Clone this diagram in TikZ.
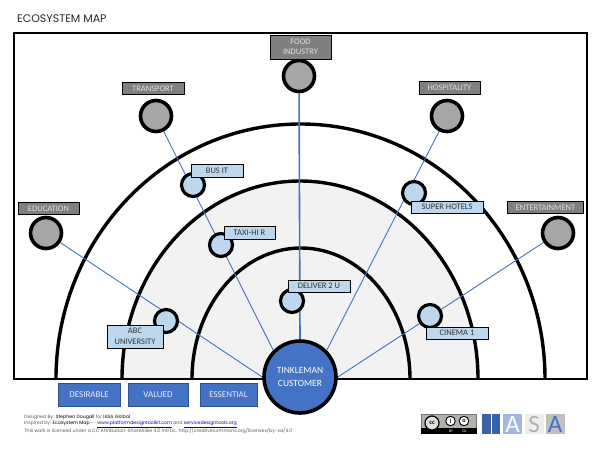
\documentclass[tikz,border=0pt]{standalone}
\usepackage{fontspec}
\setmainfont{Carlito}
\newfontfamily\gothic{Poppins}
\usetikzlibrary{backgrounds}
\definecolor{linkblue}{HTML}{4472C4}
\definecolor{paleblue}{HTML}{BDD7EE}
\definecolor{midgrey}{HTML}{A6A6A6}
\definecolor{boxgrey}{HTML}{7F7F7F}
\definecolor{ringfill}{HTML}{F2F2F2}
\definecolor{badgegrey}{HTML}{AEB3AC}
\tikzset{
  outercirc/.style={circle,draw=black,line width=3.6pt,fill=midgrey,minimum size=31pt,inner sep=0pt},
  innercirc/.style={circle,draw=black,line width=3.2pt,fill=paleblue,minimum size=23pt,inner sep=0pt},
  greylabel/.style={draw=black,line width=0.8pt,fill=boxgrey,text=white!88!black,font=\fontsize{8.5}{10.5}\selectfont,align=center,inner sep=0pt,anchor=center},
  bluelabel/.style={draw=black,line width=0.8pt,fill=paleblue,text=black!80,font=\fontsize{8.5}{10.5}\selectfont,align=center,inner sep=0pt,anchor=center},
  legendbox/.style={draw=linkblue!70!black,line width=0.8pt,fill=linkblue,text=white!88!linkblue,font=\fontsize{9}{11}\selectfont,inner sep=0pt,anchor=center},
  arcline/.style={draw=black,line width=3.4pt},
  conn/.style={draw=linkblue,line width=0.9pt},
  credit/.style={anchor=west,inner sep=0pt,font=\gothic\fontsize{4.7}{5.5}\selectfont,text=black!65},
  logotile/.style={anchor=north west,minimum width=19pt,minimum height=20pt,inner sep=0pt,font=\fontsize{25}{25}\selectfont}
}
\begin{document}
\begin{tikzpicture}[x=1pt,y=-1pt]
\useasboundingbox (0,0) rectangle (600,450);
\begin{scope}[on background layer]
  \begin{scope}
    \clip (14,33) rectangle (587,379);
    \draw[arcline] (300.5,379) ellipse [x radius=244.5,y radius=255];
    \filldraw[arcline,fill=ringfill] (300,379) ellipse [x radius=178,y radius=198];
    \draw[arcline] (301,379) ellipse [x radius=109,y radius=131];
  \end{scope}
  \draw[black,line width=2pt] (14,33) rectangle (587,379);
\end{scope}

\node[font=\gothic\fontsize{11}{12}\selectfont,anchor=west,inner sep=0pt,text=black!85] (title) at (17,19) {ECOSYSTEM MAP};

\node[circle,draw=black,line width=3.6pt,fill=linkblue,minimum size=72pt,inner sep=0pt,text=white,align=center,font=\fontsize{9.5}{12.5}\selectfont] (cust) at (300,377) {TINKLEMAN\\CUSTOMER};

\node[outercirc] (food) at (299,76) {};
\node[outercirc] (trans) at (156,116) {};
\node[outercirc] (edu) at (46,233) {};
\node[outercirc] (hosp) at (447,116) {};
\node[outercirc] (ent) at (558,233) {};

\node[innercirc] (bus) at (193,185) {};
\node[innercirc] (taxi) at (221,245) {};
\node[innercirc] (abc) at (166,321) {};
\node[innercirc] (deliver) at (292,301) {};
\node[innercirc] (super) at (414,193) {};
\node[innercirc] (cinema) at (430,316) {};

\node[greylabel,minimum width=61pt,minimum height=24pt] (foodl) at (300.5,47) {FOOD\\INDUSTRY};
\node[greylabel,minimum width=62pt,minimum height=12.5pt] (transl) at (153,88.5) {TRANSPORT};
\node[greylabel,minimum width=61pt,minimum height=12.5pt] (edul) at (48.5,208.5) {EDUCATION};
\node[greylabel,minimum width=61pt,minimum height=13pt] (hospl) at (449.5,88) {HOSPITALITY};
\node[greylabel,minimum width=76pt,minimum height=12.5pt] (entl) at (545.5,207.5) {ENTERTAINMENT};

\node[bluelabel,minimum width=52pt,minimum height=13.5pt] (busl) at (217,171) {BUS IT};
\node[bluelabel,minimum width=51pt,minimum height=13pt] (taxil) at (249.5,232.5) {TAXI-HI R};
\node[bluelabel,minimum width=56pt,minimum height=23pt] (abcl) at (135,336.5) {ABC\\UNIVERSITY};
\node[bluelabel,minimum width=62pt,minimum height=12pt] (deliverl) at (319,286) {DELIVER 2 U};
\node[bluelabel,minimum width=72pt,minimum height=12pt] (superl) at (447,207) {SUPER HOTELS};
\node[bluelabel,minimum width=62pt,minimum height=12pt] (cinemal) at (457,333) {CINEMA 1};

\node[legendbox,minimum width=62pt,minimum height=23pt] (des) at (89,394.5) {DESIRABLE};
\node[legendbox,minimum width=60pt,minimum height=23pt] (val) at (158,394.5) {VALUED};
\node[legendbox,minimum width=57pt,minimum height=23pt] (ess) at (228.5,394.5) {ESSENTIAL};

\begin{scope}[on background layer]
  \draw[conn,line width=1.6pt] (cust.north) -- (food);
  \draw[conn] (cust.north west) -- (trans);
  \draw[conn] (cust.west) -- (edu);
  \draw[conn] (cust.north east) -- (hosp);
  \draw[conn] (cust.east) -- (ent);
\end{scope}

\node[credit] (c1) at (24,417) {Designed By: \textcolor{black}{Stephen Dougall} for \textcolor{black}{IASA Global}};
\node[credit] (c2) at (24,424) {Inspired by: \textcolor{black}{Ecosystem Map} -- \textcolor{blue!80!black}{\underline{www.platformdesigntoolkit.com}} and \textcolor{blue!80!black}{\underline{servicedesigntools.org}}};
\node[credit] (c3) at (24,431) {This work is licensed under a CC Attribution-ShareAlike 4.0 Intl Lic. http://creativecommons.org/licenses/by-sa/4.0};

% licence badge and logo
\fill[black!55] (421,414) rectangle (477,434);
\fill[black] (421,427.5) rectangle (477,434);
\fill[badgegrey] (422,415) rectangle (476,427.5);
\node[circle,draw=black,line width=1.2pt,fill=black!12,minimum size=14pt,inner sep=0pt,font=\bfseries\fontsize{6.5}{7}\selectfont] (ccl) at (432,423) {cc};
\node[circle,draw=black,line width=0.9pt,fill=white,minimum size=9.5pt,inner sep=0pt,font=\bfseries\fontsize{6}{6}\selectfont] (byl) at (450.5,421) {i};
\node[circle,draw=black,line width=0.9pt,fill=white,minimum size=9.5pt,inner sep=0pt,font=\bfseries\fontsize{6}{6}\selectfont] (sal) at (464,421) {o};
\node[text=white,inner sep=0pt,font=\fontsize{3.8}{4}\selectfont] (byt) at (451,431) {BY};
\node[text=white,inner sep=0pt,font=\fontsize{3.8}{4}\selectfont] (sat) at (464,431) {SA};

\fill[linkblue!85!black] (482,414) rectangle (490.5,434);
\fill[linkblue!85!black] (491.5,414) rectangle (500,434);
\node[logotile,fill=linkblue!50!white,text=white] (la) at (503,414) {A};
\node[logotile,fill=black!7,text=black!30] (ls) at (524.5,414) {S};
\node[logotile,fill=black!25,text=linkblue] (lb) at (545.5,414) {A};
\end{tikzpicture}
\end{document}
